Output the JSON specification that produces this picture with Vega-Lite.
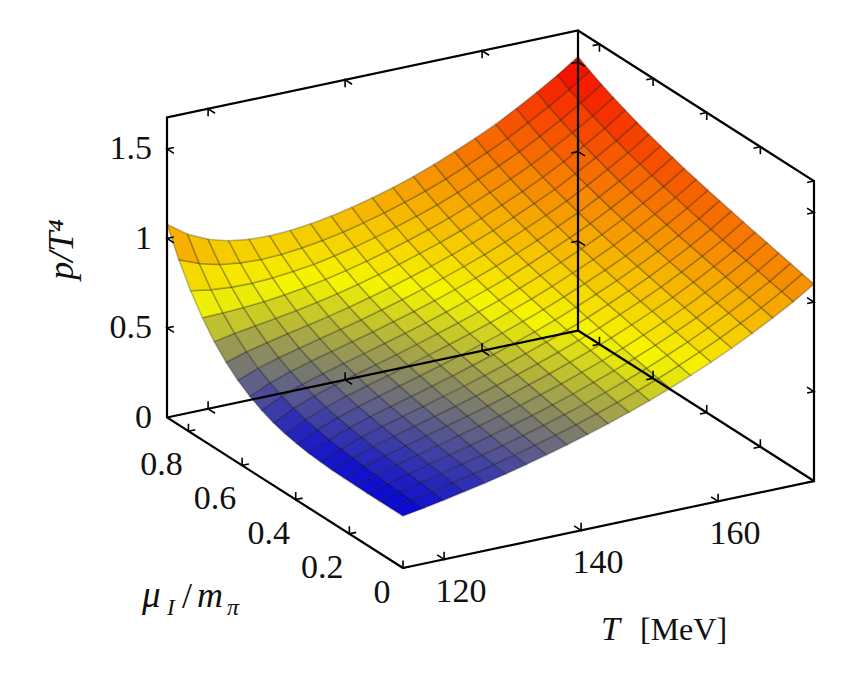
{"$schema":"https://vega.github.io/schema/vega-lite/v6.json","width":846,"height":691,"padding":0,"autosize":{"type":"fit","contains":"padding"},"background":"white","config":{"view":{"stroke":null},"text":{"font":"Liberation Serif","fontSize":34,"color":"#111"}},
"encoding":{"x":{"field":"sx","type":"quantitative","axis":null,"scale":{"domain":[0,846],"nice":false,"zero":false}},"y":{"field":"sy","type":"quantitative","axis":null,"scale":{"domain":[691,0],"nice":false,"zero":false}}},
"datasets":{"surface":[
{"T":114,"mu":0,"p":0.29},{"T":114,"mu":0.044,"p":0.29},{"T":114,"mu":0.088,"p":0.29},{"T":114,"mu":0.132,"p":0.29},{"T":114,"mu":0.176,"p":0.291},{"T":114,"mu":0.22,"p":0.292},{"T":114,"mu":0.264,"p":0.294},{"T":114,"mu":0.308,"p":0.299},{"T":114,"mu":0.352,"p":0.305},{"T":114,"mu":0.396,"p":0.316},{"T":114,"mu":0.44,"p":0.33},{"T":114,"mu":0.484,"p":0.35},{"T":114,"mu":0.528,"p":0.378},{"T":114,"mu":0.572,"p":0.414},{"T":114,"mu":0.616,"p":0.46},{"T":114,"mu":0.66,"p":0.519},{"T":114,"mu":0.704,"p":0.592},{"T":114,"mu":0.748,"p":0.683},{"T":114,"mu":0.792,"p":0.792},{"T":114,"mu":0.836,"p":0.924},{"T":114,"mu":0.88,"p":1.08},
{"T":117,"mu":0,"p":0.31},{"T":117,"mu":0.044,"p":0.315},{"T":117,"mu":0.088,"p":0.319},{"T":117,"mu":0.132,"p":0.324},{"T":117,"mu":0.176,"p":0.329},{"T":117,"mu":0.22,"p":0.335},{"T":117,"mu":0.264,"p":0.342},{"T":117,"mu":0.308,"p":0.349},{"T":117,"mu":0.352,"p":0.359},{"T":117,"mu":0.396,"p":0.372},{"T":117,"mu":0.44,"p":0.387},{"T":117,"mu":0.484,"p":0.408},{"T":117,"mu":0.528,"p":0.433},{"T":117,"mu":0.572,"p":0.465},{"T":117,"mu":0.616,"p":0.505},{"T":117,"mu":0.66,"p":0.554},{"T":117,"mu":0.704,"p":0.614},{"T":117,"mu":0.748,"p":0.687},{"T":117,"mu":0.792,"p":0.774},{"T":117,"mu":0.836,"p":0.878},{"T":117,"mu":0.88,"p":1.0},
{"T":120,"mu":0,"p":0.331},{"T":120,"mu":0.044,"p":0.339},{"T":120,"mu":0.088,"p":0.346},{"T":120,"mu":0.132,"p":0.354},{"T":120,"mu":0.176,"p":0.362},{"T":120,"mu":0.22,"p":0.37},{"T":120,"mu":0.264,"p":0.38},{"T":120,"mu":0.308,"p":0.39},{"T":120,"mu":0.352,"p":0.401},{"T":120,"mu":0.396,"p":0.415},{"T":120,"mu":0.44,"p":0.431},{"T":120,"mu":0.484,"p":0.451},{"T":120,"mu":0.528,"p":0.475},{"T":120,"mu":0.572,"p":0.504},{"T":120,"mu":0.616,"p":0.539},{"T":120,"mu":0.66,"p":0.581},{"T":120,"mu":0.704,"p":0.632},{"T":120,"mu":0.748,"p":0.692},{"T":120,"mu":0.792,"p":0.764},{"T":120,"mu":0.836,"p":0.848},{"T":120,"mu":0.88,"p":0.947},
{"T":123,"mu":0,"p":0.354},{"T":123,"mu":0.044,"p":0.363},{"T":123,"mu":0.088,"p":0.373},{"T":123,"mu":0.132,"p":0.383},{"T":123,"mu":0.176,"p":0.392},{"T":123,"mu":0.22,"p":0.402},{"T":123,"mu":0.264,"p":0.413},{"T":123,"mu":0.308,"p":0.425},{"T":123,"mu":0.352,"p":0.438},{"T":123,"mu":0.396,"p":0.452},{"T":123,"mu":0.44,"p":0.469},{"T":123,"mu":0.484,"p":0.488},{"T":123,"mu":0.528,"p":0.51},{"T":123,"mu":0.572,"p":0.537},{"T":123,"mu":0.616,"p":0.568},{"T":123,"mu":0.66,"p":0.606},{"T":123,"mu":0.704,"p":0.65},{"T":123,"mu":0.748,"p":0.701},{"T":123,"mu":0.792,"p":0.762},{"T":123,"mu":0.836,"p":0.833},{"T":123,"mu":0.88,"p":0.915},
{"T":126,"mu":0,"p":0.378},{"T":126,"mu":0.044,"p":0.389},{"T":126,"mu":0.088,"p":0.4},{"T":126,"mu":0.132,"p":0.41},{"T":126,"mu":0.176,"p":0.421},{"T":126,"mu":0.22,"p":0.433},{"T":126,"mu":0.264,"p":0.444},{"T":126,"mu":0.308,"p":0.457},{"T":126,"mu":0.352,"p":0.47},{"T":126,"mu":0.396,"p":0.485},{"T":126,"mu":0.44,"p":0.502},{"T":126,"mu":0.484,"p":0.521},{"T":126,"mu":0.528,"p":0.542},{"T":126,"mu":0.572,"p":0.567},{"T":126,"mu":0.616,"p":0.596},{"T":126,"mu":0.66,"p":0.63},{"T":126,"mu":0.704,"p":0.669},{"T":126,"mu":0.748,"p":0.714},{"T":126,"mu":0.792,"p":0.767},{"T":126,"mu":0.836,"p":0.828},{"T":126,"mu":0.88,"p":0.898},
{"T":129,"mu":0,"p":0.404},{"T":129,"mu":0.044,"p":0.416},{"T":129,"mu":0.088,"p":0.427},{"T":129,"mu":0.132,"p":0.439},{"T":129,"mu":0.176,"p":0.451},{"T":129,"mu":0.22,"p":0.463},{"T":129,"mu":0.264,"p":0.475},{"T":129,"mu":0.308,"p":0.488},{"T":129,"mu":0.352,"p":0.502},{"T":129,"mu":0.396,"p":0.518},{"T":129,"mu":0.44,"p":0.534},{"T":129,"mu":0.484,"p":0.553},{"T":129,"mu":0.528,"p":0.573},{"T":129,"mu":0.572,"p":0.597},{"T":129,"mu":0.616,"p":0.624},{"T":129,"mu":0.66,"p":0.655},{"T":129,"mu":0.704,"p":0.691},{"T":129,"mu":0.748,"p":0.732},{"T":129,"mu":0.792,"p":0.779},{"T":129,"mu":0.836,"p":0.832},{"T":129,"mu":0.88,"p":0.894},
{"T":132,"mu":0,"p":0.432},{"T":132,"mu":0.044,"p":0.444},{"T":132,"mu":0.088,"p":0.456},{"T":132,"mu":0.132,"p":0.469},{"T":132,"mu":0.176,"p":0.481},{"T":132,"mu":0.22,"p":0.494},{"T":132,"mu":0.264,"p":0.507},{"T":132,"mu":0.308,"p":0.52},{"T":132,"mu":0.352,"p":0.535},{"T":132,"mu":0.396,"p":0.55},{"T":132,"mu":0.44,"p":0.567},{"T":132,"mu":0.484,"p":0.585},{"T":132,"mu":0.528,"p":0.605},{"T":132,"mu":0.572,"p":0.628},{"T":132,"mu":0.616,"p":0.653},{"T":132,"mu":0.66,"p":0.682},{"T":132,"mu":0.704,"p":0.715},{"T":132,"mu":0.748,"p":0.753},{"T":132,"mu":0.792,"p":0.795},{"T":132,"mu":0.836,"p":0.844},{"T":132,"mu":0.88,"p":0.899},
{"T":135,"mu":0,"p":0.462},{"T":135,"mu":0.044,"p":0.475},{"T":135,"mu":0.088,"p":0.487},{"T":135,"mu":0.132,"p":0.5},{"T":135,"mu":0.176,"p":0.513},{"T":135,"mu":0.22,"p":0.526},{"T":135,"mu":0.264,"p":0.54},{"T":135,"mu":0.308,"p":0.553},{"T":135,"mu":0.352,"p":0.568},{"T":135,"mu":0.396,"p":0.584},{"T":135,"mu":0.44,"p":0.6},{"T":135,"mu":0.484,"p":0.618},{"T":135,"mu":0.528,"p":0.638},{"T":135,"mu":0.572,"p":0.66},{"T":135,"mu":0.616,"p":0.684},{"T":135,"mu":0.66,"p":0.712},{"T":135,"mu":0.704,"p":0.743},{"T":135,"mu":0.748,"p":0.778},{"T":135,"mu":0.792,"p":0.817},{"T":135,"mu":0.836,"p":0.862},{"T":135,"mu":0.88,"p":0.912},
{"T":138,"mu":0,"p":0.494},{"T":138,"mu":0.044,"p":0.507},{"T":138,"mu":0.088,"p":0.52},{"T":138,"mu":0.132,"p":0.533},{"T":138,"mu":0.176,"p":0.547},{"T":138,"mu":0.22,"p":0.56},{"T":138,"mu":0.264,"p":0.574},{"T":138,"mu":0.308,"p":0.588},{"T":138,"mu":0.352,"p":0.603},{"T":138,"mu":0.396,"p":0.618},{"T":138,"mu":0.44,"p":0.635},{"T":138,"mu":0.484,"p":0.653},{"T":138,"mu":0.528,"p":0.672},{"T":138,"mu":0.572,"p":0.693},{"T":138,"mu":0.616,"p":0.717},{"T":138,"mu":0.66,"p":0.743},{"T":138,"mu":0.704,"p":0.773},{"T":138,"mu":0.748,"p":0.806},{"T":138,"mu":0.792,"p":0.843},{"T":138,"mu":0.836,"p":0.884},{"T":138,"mu":0.88,"p":0.931},
{"T":141,"mu":0,"p":0.528},{"T":141,"mu":0.044,"p":0.541},{"T":141,"mu":0.088,"p":0.555},{"T":141,"mu":0.132,"p":0.568},{"T":141,"mu":0.176,"p":0.582},{"T":141,"mu":0.22,"p":0.596},{"T":141,"mu":0.264,"p":0.61},{"T":141,"mu":0.308,"p":0.624},{"T":141,"mu":0.352,"p":0.639},{"T":141,"mu":0.396,"p":0.655},{"T":141,"mu":0.44,"p":0.671},{"T":141,"mu":0.484,"p":0.689},{"T":141,"mu":0.528,"p":0.708},{"T":141,"mu":0.572,"p":0.729},{"T":141,"mu":0.616,"p":0.752},{"T":141,"mu":0.66,"p":0.778},{"T":141,"mu":0.704,"p":0.806},{"T":141,"mu":0.748,"p":0.838},{"T":141,"mu":0.792,"p":0.873},{"T":141,"mu":0.836,"p":0.912},{"T":141,"mu":0.88,"p":0.956},
{"T":144,"mu":0,"p":0.564},{"T":144,"mu":0.044,"p":0.578},{"T":144,"mu":0.088,"p":0.591},{"T":144,"mu":0.132,"p":0.605},{"T":144,"mu":0.176,"p":0.619},{"T":144,"mu":0.22,"p":0.633},{"T":144,"mu":0.264,"p":0.647},{"T":144,"mu":0.308,"p":0.662},{"T":144,"mu":0.352,"p":0.677},{"T":144,"mu":0.396,"p":0.692},{"T":144,"mu":0.44,"p":0.709},{"T":144,"mu":0.484,"p":0.727},{"T":144,"mu":0.528,"p":0.746},{"T":144,"mu":0.572,"p":0.767},{"T":144,"mu":0.616,"p":0.789},{"T":144,"mu":0.66,"p":0.814},{"T":144,"mu":0.704,"p":0.842},{"T":144,"mu":0.748,"p":0.872},{"T":144,"mu":0.792,"p":0.906},{"T":144,"mu":0.836,"p":0.943},{"T":144,"mu":0.88,"p":0.985},
{"T":147,"mu":0,"p":0.603},{"T":147,"mu":0.044,"p":0.617},{"T":147,"mu":0.088,"p":0.631},{"T":147,"mu":0.132,"p":0.645},{"T":147,"mu":0.176,"p":0.659},{"T":147,"mu":0.22,"p":0.673},{"T":147,"mu":0.264,"p":0.687},{"T":147,"mu":0.308,"p":0.702},{"T":147,"mu":0.352,"p":0.717},{"T":147,"mu":0.396,"p":0.733},{"T":147,"mu":0.44,"p":0.75},{"T":147,"mu":0.484,"p":0.767},{"T":147,"mu":0.528,"p":0.786},{"T":147,"mu":0.572,"p":0.807},{"T":147,"mu":0.616,"p":0.829},{"T":147,"mu":0.66,"p":0.853},{"T":147,"mu":0.704,"p":0.88},{"T":147,"mu":0.748,"p":0.909},{"T":147,"mu":0.792,"p":0.942},{"T":147,"mu":0.836,"p":0.978},{"T":147,"mu":0.88,"p":1.018},
{"T":150,"mu":0,"p":0.644},{"T":150,"mu":0.044,"p":0.658},{"T":150,"mu":0.088,"p":0.672},{"T":150,"mu":0.132,"p":0.686},{"T":150,"mu":0.176,"p":0.7},{"T":150,"mu":0.22,"p":0.715},{"T":150,"mu":0.264,"p":0.729},{"T":150,"mu":0.308,"p":0.744},{"T":150,"mu":0.352,"p":0.759},{"T":150,"mu":0.396,"p":0.775},{"T":150,"mu":0.44,"p":0.792},{"T":150,"mu":0.484,"p":0.81},{"T":150,"mu":0.528,"p":0.828},{"T":150,"mu":0.572,"p":0.849},{"T":150,"mu":0.616,"p":0.871},{"T":150,"mu":0.66,"p":0.895},{"T":150,"mu":0.704,"p":0.921},{"T":150,"mu":0.748,"p":0.95},{"T":150,"mu":0.792,"p":0.981},{"T":150,"mu":0.836,"p":1.016},{"T":150,"mu":0.88,"p":1.055},
{"T":153,"mu":0,"p":0.688},{"T":153,"mu":0.044,"p":0.702},{"T":153,"mu":0.088,"p":0.717},{"T":153,"mu":0.132,"p":0.731},{"T":153,"mu":0.176,"p":0.745},{"T":153,"mu":0.22,"p":0.76},{"T":153,"mu":0.264,"p":0.774},{"T":153,"mu":0.308,"p":0.789},{"T":153,"mu":0.352,"p":0.805},{"T":153,"mu":0.396,"p":0.821},{"T":153,"mu":0.44,"p":0.838},{"T":153,"mu":0.484,"p":0.856},{"T":153,"mu":0.528,"p":0.875},{"T":153,"mu":0.572,"p":0.895},{"T":153,"mu":0.616,"p":0.917},{"T":153,"mu":0.66,"p":0.94},{"T":153,"mu":0.704,"p":0.966},{"T":153,"mu":0.748,"p":0.995},{"T":153,"mu":0.792,"p":1.026},{"T":153,"mu":0.836,"p":1.06},{"T":153,"mu":0.88,"p":1.098},
{"T":156,"mu":0,"p":0.736},{"T":156,"mu":0.044,"p":0.75},{"T":156,"mu":0.088,"p":0.765},{"T":156,"mu":0.132,"p":0.779},{"T":156,"mu":0.176,"p":0.794},{"T":156,"mu":0.22,"p":0.809},{"T":156,"mu":0.264,"p":0.824},{"T":156,"mu":0.308,"p":0.839},{"T":156,"mu":0.352,"p":0.854},{"T":156,"mu":0.396,"p":0.871},{"T":156,"mu":0.44,"p":0.888},{"T":156,"mu":0.484,"p":0.906},{"T":156,"mu":0.528,"p":0.925},{"T":156,"mu":0.572,"p":0.945},{"T":156,"mu":0.616,"p":0.967},{"T":156,"mu":0.66,"p":0.99},{"T":156,"mu":0.704,"p":1.016},{"T":156,"mu":0.748,"p":1.044},{"T":156,"mu":0.792,"p":1.075},{"T":156,"mu":0.836,"p":1.109},{"T":156,"mu":0.88,"p":1.146},
{"T":159,"mu":0,"p":0.786},{"T":159,"mu":0.044,"p":0.801},{"T":159,"mu":0.088,"p":0.815},{"T":159,"mu":0.132,"p":0.83},{"T":159,"mu":0.176,"p":0.845},{"T":159,"mu":0.22,"p":0.86},{"T":159,"mu":0.264,"p":0.875},{"T":159,"mu":0.308,"p":0.89},{"T":159,"mu":0.352,"p":0.906},{"T":159,"mu":0.396,"p":0.922},{"T":159,"mu":0.44,"p":0.939},{"T":159,"mu":0.484,"p":0.957},{"T":159,"mu":0.528,"p":0.976},{"T":159,"mu":0.572,"p":0.997},{"T":159,"mu":0.616,"p":1.018},{"T":159,"mu":0.66,"p":1.042},{"T":159,"mu":0.704,"p":1.067},{"T":159,"mu":0.748,"p":1.095},{"T":159,"mu":0.792,"p":1.126},{"T":159,"mu":0.836,"p":1.159},{"T":159,"mu":0.88,"p":1.196},
{"T":162,"mu":0,"p":0.84},{"T":162,"mu":0.044,"p":0.855},{"T":162,"mu":0.088,"p":0.87},{"T":162,"mu":0.132,"p":0.884},{"T":162,"mu":0.176,"p":0.899},{"T":162,"mu":0.22,"p":0.914},{"T":162,"mu":0.264,"p":0.929},{"T":162,"mu":0.308,"p":0.945},{"T":162,"mu":0.352,"p":0.961},{"T":162,"mu":0.396,"p":0.977},{"T":162,"mu":0.44,"p":0.994},{"T":162,"mu":0.484,"p":1.013},{"T":162,"mu":0.528,"p":1.032},{"T":162,"mu":0.572,"p":1.052},{"T":162,"mu":0.616,"p":1.074},{"T":162,"mu":0.66,"p":1.097},{"T":162,"mu":0.704,"p":1.123},{"T":162,"mu":0.748,"p":1.15},{"T":162,"mu":0.792,"p":1.181},{"T":162,"mu":0.836,"p":1.214},{"T":162,"mu":0.88,"p":1.25},
{"T":165,"mu":0,"p":0.898},{"T":165,"mu":0.044,"p":0.913},{"T":165,"mu":0.088,"p":0.928},{"T":165,"mu":0.132,"p":0.943},{"T":165,"mu":0.176,"p":0.958},{"T":165,"mu":0.22,"p":0.974},{"T":165,"mu":0.264,"p":0.989},{"T":165,"mu":0.308,"p":1.005},{"T":165,"mu":0.352,"p":1.021},{"T":165,"mu":0.396,"p":1.038},{"T":165,"mu":0.44,"p":1.055},{"T":165,"mu":0.484,"p":1.074},{"T":165,"mu":0.528,"p":1.093},{"T":165,"mu":0.572,"p":1.114},{"T":165,"mu":0.616,"p":1.136},{"T":165,"mu":0.66,"p":1.159},{"T":165,"mu":0.704,"p":1.185},{"T":165,"mu":0.748,"p":1.213},{"T":165,"mu":0.792,"p":1.243},{"T":165,"mu":0.836,"p":1.277},{"T":165,"mu":0.88,"p":1.313},
{"T":168,"mu":0,"p":0.96},{"T":168,"mu":0.044,"p":0.975},{"T":168,"mu":0.088,"p":0.991},{"T":168,"mu":0.132,"p":1.006},{"T":168,"mu":0.176,"p":1.022},{"T":168,"mu":0.22,"p":1.037},{"T":168,"mu":0.264,"p":1.053},{"T":168,"mu":0.308,"p":1.069},{"T":168,"mu":0.352,"p":1.085},{"T":168,"mu":0.396,"p":1.103},{"T":168,"mu":0.44,"p":1.12},{"T":168,"mu":0.484,"p":1.139},{"T":168,"mu":0.528,"p":1.158},{"T":168,"mu":0.572,"p":1.179},{"T":168,"mu":0.616,"p":1.202},{"T":168,"mu":0.66,"p":1.226},{"T":168,"mu":0.704,"p":1.251},{"T":168,"mu":0.748,"p":1.28},{"T":168,"mu":0.792,"p":1.31},{"T":168,"mu":0.836,"p":1.343},{"T":168,"mu":0.88,"p":1.38},
{"T":171,"mu":0,"p":1.026},{"T":171,"mu":0.044,"p":1.042},{"T":171,"mu":0.088,"p":1.057},{"T":171,"mu":0.132,"p":1.073},{"T":171,"mu":0.176,"p":1.089},{"T":171,"mu":0.22,"p":1.104},{"T":171,"mu":0.264,"p":1.12},{"T":171,"mu":0.308,"p":1.137},{"T":171,"mu":0.352,"p":1.154},{"T":171,"mu":0.396,"p":1.171},{"T":171,"mu":0.44,"p":1.189},{"T":171,"mu":0.484,"p":1.208},{"T":171,"mu":0.528,"p":1.228},{"T":171,"mu":0.572,"p":1.249},{"T":171,"mu":0.616,"p":1.271},{"T":171,"mu":0.66,"p":1.295},{"T":171,"mu":0.704,"p":1.322},{"T":171,"mu":0.748,"p":1.35},{"T":171,"mu":0.792,"p":1.381},{"T":171,"mu":0.836,"p":1.414},{"T":171,"mu":0.88,"p":1.451},
{"T":174,"mu":0,"p":1.1},{"T":174,"mu":0.044,"p":1.116},{"T":174,"mu":0.088,"p":1.132},{"T":174,"mu":0.132,"p":1.148},{"T":174,"mu":0.176,"p":1.164},{"T":174,"mu":0.22,"p":1.18},{"T":174,"mu":0.264,"p":1.196},{"T":174,"mu":0.308,"p":1.213},{"T":174,"mu":0.352,"p":1.23},{"T":174,"mu":0.396,"p":1.247},{"T":174,"mu":0.44,"p":1.265},{"T":174,"mu":0.484,"p":1.284},{"T":174,"mu":0.528,"p":1.305},{"T":174,"mu":0.572,"p":1.326},{"T":174,"mu":0.616,"p":1.349},{"T":174,"mu":0.66,"p":1.373},{"T":174,"mu":0.704,"p":1.4},{"T":174,"mu":0.748,"p":1.428},{"T":174,"mu":0.792,"p":1.459},{"T":174,"mu":0.836,"p":1.493},{"T":174,"mu":0.88,"p":1.53}
],
"frame":[
{"e":"a","n":0,"T":114,"mu":0,"p":0},{"e":"a","n":1,"T":114,"mu":0.88,"p":0},{"e":"a","n":2,"T":114,"mu":0.88,"p":1.676},{"e":"a","n":3,"T":174,"mu":0.88,"p":1.676},{"e":"a","n":4,"T":174,"mu":0,"p":1.676},{"e":"a","n":5,"T":174,"mu":0,"p":0},{"e":"a","n":6,"T":114,"mu":0,"p":0},
{"e":"b","n":0,"T":174,"mu":0.88,"p":1.676},{"e":"b","n":1,"T":174,"mu":0.88,"p":0},{"e":"b","n":2,"T":114,"mu":0.88,"p":0},
{"e":"c","n":0,"T":174,"mu":0.88,"p":0},{"e":"c","n":1,"T":174,"mu":0,"p":0}
],
"ticks":[
{"T":114,"mu":0.88,"p":0.5,"sT":1,"sM":-1,"sP":0},{"T":114,"mu":0.88,"p":1,"sT":1,"sM":-1,"sP":0},{"T":114,"mu":0.88,"p":1.5,"sT":1,"sM":-1,"sP":0},
{"T":174,"mu":0.88,"p":0.5,"sT":-1,"sM":-1,"sP":0},{"T":174,"mu":0.88,"p":1,"sT":-1,"sM":-1,"sP":0},{"T":174,"mu":0.88,"p":1.5,"sT":-1,"sM":-1,"sP":0},
{"T":174,"mu":0,"p":0.5,"sT":-1,"sM":1,"sP":0},{"T":174,"mu":0,"p":1,"sT":-1,"sM":1,"sP":0},{"T":174,"mu":0,"p":1.5,"sT":-1,"sM":1,"sP":0},
{"T":120,"mu":0,"p":0,"sT":0,"sM":1,"sP":1},{"T":140,"mu":0,"p":0,"sT":0,"sM":1,"sP":1},{"T":160,"mu":0,"p":0,"sT":0,"sM":1,"sP":1},
{"T":120,"mu":0.88,"p":0,"sT":0,"sM":-1,"sP":1},{"T":140,"mu":0.88,"p":0,"sT":0,"sM":-1,"sP":1},{"T":160,"mu":0.88,"p":0,"sT":0,"sM":-1,"sP":1},
{"T":120,"mu":0.88,"p":1.676,"sT":0,"sM":-1,"sP":-1},{"T":140,"mu":0.88,"p":1.676,"sT":0,"sM":-1,"sP":-1},{"T":160,"mu":0.88,"p":1.676,"sT":0,"sM":-1,"sP":-1},
{"T":114,"mu":0,"p":0,"sT":1,"sM":0,"sP":1},{"T":114,"mu":0.2,"p":0,"sT":1,"sM":0,"sP":1},{"T":114,"mu":0.4,"p":0,"sT":1,"sM":0,"sP":1},{"T":114,"mu":0.6,"p":0,"sT":1,"sM":0,"sP":1},{"T":114,"mu":0.8,"p":0,"sT":1,"sM":0,"sP":1},
{"T":174,"mu":0,"p":0,"sT":-1,"sM":0,"sP":1},{"T":174,"mu":0.2,"p":0,"sT":-1,"sM":0,"sP":1},{"T":174,"mu":0.4,"p":0,"sT":-1,"sM":0,"sP":1},{"T":174,"mu":0.6,"p":0,"sT":-1,"sM":0,"sP":1},{"T":174,"mu":0.8,"p":0,"sT":-1,"sM":0,"sP":1},
{"T":174,"mu":0,"p":1.676,"sT":-1,"sM":0,"sP":-1},{"T":174,"mu":0.2,"p":1.676,"sT":-1,"sM":0,"sP":-1},{"T":174,"mu":0.4,"p":1.676,"sT":-1,"sM":0,"sP":-1},{"T":174,"mu":0.6,"p":1.676,"sT":-1,"sM":0,"sP":-1},{"T":174,"mu":0.8,"p":1.676,"sT":-1,"sM":0,"sP":-1}
]
},
"layer":[
{"data":{"name":"surface"},"transform":[
{"calculate":"round((datum.T-114)/3)","as":"i"},{"calculate":"round(datum.mu/0.044)","as":"j"},
{"calculate":"[0,1,2,3]","as":"corner"},{"flatten":["corner"]},
{"calculate":"datum.i-((datum.corner==1||datum.corner==2)?1:0)","as":"qi"},
{"calculate":"datum.j-(datum.corner>=2?1:0)","as":"qj"},
{"filter":"datum.qi>=0&&datum.qj>=0&&datum.qi<20&&datum.qj<20"},
{"calculate":"datum.qi*100+datum.qj","as":"quad"},
{"joinaggregate":[{"op":"mean","field":"p","as":"pm"}],"groupby":["quad"]},
{"calculate":"403+411*(datum.T-114)/60-236*datum.mu/0.88","as":"sx"},
{"calculate":"568-87*(datum.T-114)/60-150.5*datum.mu/0.88-179*datum.p","as":"sy"}],
"mark":{"type":"line","interpolate":"linear-closed","stroke":"#000","strokeOpacity":0.24,"strokeWidth":1.6},
"encoding":{"detail":{"field":"quad","type":"nominal"},"order":{"field":"corner","type":"quantitative"},
"fill":{"field":"pm","type":"quantitative","legend":null,"scale":{"domain":[0.28,0.75,1.53],"range":["#0000dd","#f6f600","#f60000"],"interpolate":"rgb","clamp":true,"nice":false,"zero":false}}}},
{"data":{"name":"frame"},"transform":[
{"calculate":"403+411*(datum.T-114)/60-236*datum.mu/0.88","as":"sx"},
{"calculate":"568-87*(datum.T-114)/60-150.5*datum.mu/0.88-179*datum.p","as":"sy"}],
"mark":{"type":"line","color":"#000","strokeWidth":2.2,"strokeJoin":"miter"},
"encoding":{"detail":{"field":"e","type":"nominal"},"order":{"field":"n","type":"quantitative"}}},
{"data":{"name":"ticks"},"transform":[
{"calculate":"datum.T+'_'+datum.mu+'_'+datum.p+'_'+datum.sT+datum.sM+datum.sP","as":"id"},
{"calculate":"[0,1,2]","as":"arm"},{"flatten":["arm"]},
{"calculate":"datum.arm==0?datum.sT:0","as":"aT"},
{"calculate":"(datum.arm==0&&datum.sT==0)||(datum.arm==2&&datum.sP==0)?datum.sM:0","as":"aM"},
{"calculate":"datum.arm==2?datum.sP:0","as":"aP"},
{"calculate":"403+411*(datum.T+datum.aT-114)/60-236*(datum.mu+0.026*datum.aM)/0.88","as":"sx"},
{"calculate":"568-87*(datum.T+datum.aT-114)/60-150.5*(datum.mu+0.026*datum.aM)/0.88-179*(datum.p+0.042*datum.aP)","as":"sy"}],
"mark":{"type":"line","color":"#000","strokeWidth":1.6},
"encoding":{"detail":{"field":"id","type":"nominal"},"order":{"field":"arm","type":"quantitative"}}},
{"data":{"values":[{"T":114,"mu":0.88,"p":0,"label":"0"},{"T":114,"mu":0.88,"p":0.5,"label":"0.5"},{"T":114,"mu":0.88,"p":1,"label":"1"},{"T":114,"mu":0.88,"p":1.5,"label":"1.5"}]},"transform":[
{"calculate":"403+411*(datum.T-114)/60-236*datum.mu/0.88","as":"sx"},
{"calculate":"568-87*(datum.T-114)/60-150.5*datum.mu/0.88-179*datum.p","as":"sy"}],
"mark":{"type":"text","align":"right","baseline":"middle","dx":-15,"dy":0},"encoding":{"text":{"field":"label"}}},
{"data":{"values":[{"T":114,"mu":0.2,"p":0,"label":"0.2"},{"T":114,"mu":0.4,"p":0,"label":"0.4"},{"T":114,"mu":0.6,"p":0,"label":"0.6"},{"T":114,"mu":0.8,"p":0,"label":"0.8"}]},"transform":[
{"calculate":"403+411*(datum.T-114)/60-236*datum.mu/0.88","as":"sx"},
{"calculate":"568-87*(datum.T-114)/60-150.5*datum.mu/0.88-179*datum.p","as":"sy"}],
"mark":{"type":"text","align":"center","baseline":"middle","dx":-27,"dy":34},"encoding":{"text":{"field":"label"}}},
{"data":{"values":[{"T":114,"mu":0,"p":0,"label":"0"}]},"transform":[
{"calculate":"403+411*(datum.T-114)/60-236*datum.mu/0.88","as":"sx"},
{"calculate":"568-87*(datum.T-114)/60-150.5*datum.mu/0.88-179*datum.p","as":"sy"}],
"mark":{"type":"text","align":"center","baseline":"middle","dx":-21,"dy":25},"encoding":{"text":{"field":"label"}}},
{"data":{"values":[{"T":120,"mu":0,"p":0,"label":"120"},{"T":140,"mu":0,"p":0,"label":"140"},{"T":160,"mu":0,"p":0,"label":"160"}]},"transform":[
{"calculate":"403+411*(datum.T-114)/60-236*datum.mu/0.88","as":"sx"},
{"calculate":"568-87*(datum.T-114)/60-150.5*datum.mu/0.88-179*datum.p","as":"sy"}],
"mark":{"type":"text","align":"center","baseline":"middle","dx":17,"dy":33},"encoding":{"text":{"field":"label"}}},
{"data":{"values":[{"T":114,"mu":0.88,"p":0,"label":"p/T⁴"}]},"transform":[
{"calculate":"403+411*(datum.T-114)/60-236*datum.mu/0.88","as":"sx"},
{"calculate":"568-87*(datum.T-114)/60-150.5*datum.mu/0.88-179*datum.p","as":"sy"}],
"mark":{"type":"text","align":"center","baseline":"alphabetic","angle":270,"fontStyle":"italic","fontSize":36,"dx":168,"dy":-94},"encoding":{"text":{"field":"label"}}},
{"data":{"values":[{"T":114,"mu":0,"p":0,"label":"T"}]},"transform":[
{"calculate":"403+411*(datum.T-114)/60-236*datum.mu/0.88","as":"sx"},
{"calculate":"568-87*(datum.T-114)/60-150.5*datum.mu/0.88-179*datum.p","as":"sy"}],
"mark":{"type":"text","align":"left","baseline":"alphabetic","fontStyle":"italic","dx":198,"dy":72},"encoding":{"text":{"field":"label"}}},
{"data":{"values":[{"T":114,"mu":0,"p":0,"label":"[MeV]"}]},"transform":[
{"calculate":"403+411*(datum.T-114)/60-236*datum.mu/0.88","as":"sx"},
{"calculate":"568-87*(datum.T-114)/60-150.5*datum.mu/0.88-179*datum.p","as":"sy"}],
"mark":{"type":"text","align":"left","baseline":"alphabetic","fontSize":32,"dx":237,"dy":72},"encoding":{"text":{"field":"label"}}},
{"data":{"values":[{"T":114,"mu":0,"p":0,"label":"μ"}]},"transform":[
{"calculate":"403+411*(datum.T-114)/60-236*datum.mu/0.88","as":"sx"},
{"calculate":"568-87*(datum.T-114)/60-150.5*datum.mu/0.88-179*datum.p","as":"sy"}],
"mark":{"type":"text","align":"left","baseline":"alphabetic","fontStyle":"italic","fontSize":37,"dx":-261,"dy":39},"encoding":{"text":{"field":"label"}}},
{"data":{"values":[{"T":114,"mu":0,"p":0,"label":"I"}]},"transform":[
{"calculate":"403+411*(datum.T-114)/60-236*datum.mu/0.88","as":"sx"},
{"calculate":"568-87*(datum.T-114)/60-150.5*datum.mu/0.88-179*datum.p","as":"sy"}],
"mark":{"type":"text","align":"left","baseline":"alphabetic","fontStyle":"italic","fontSize":23,"dx":-236,"dy":47},"encoding":{"text":{"field":"label"}}},
{"data":{"values":[{"T":114,"mu":0,"p":0,"label":"/"}]},"transform":[
{"calculate":"403+411*(datum.T-114)/60-236*datum.mu/0.88","as":"sx"},
{"calculate":"568-87*(datum.T-114)/60-150.5*datum.mu/0.88-179*datum.p","as":"sy"}],
"mark":{"type":"text","align":"left","baseline":"alphabetic","fontSize":36,"dx":-221,"dy":40},"encoding":{"text":{"field":"label"}}},
{"data":{"values":[{"T":114,"mu":0,"p":0,"label":"m"}]},"transform":[
{"calculate":"403+411*(datum.T-114)/60-236*datum.mu/0.88","as":"sx"},
{"calculate":"568-87*(datum.T-114)/60-150.5*datum.mu/0.88-179*datum.p","as":"sy"}],
"mark":{"type":"text","align":"left","baseline":"alphabetic","fontStyle":"italic","fontSize":36,"dx":-206,"dy":39},"encoding":{"text":{"field":"label"}}},
{"data":{"values":[{"T":114,"mu":0,"p":0,"label":"π"}]},"transform":[
{"calculate":"403+411*(datum.T-114)/60-236*datum.mu/0.88","as":"sx"},
{"calculate":"568-87*(datum.T-114)/60-150.5*datum.mu/0.88-179*datum.p","as":"sy"}],
"mark":{"type":"text","align":"left","baseline":"alphabetic","fontStyle":"italic","fontSize":24,"dx":-176,"dy":47},"encoding":{"text":{"field":"label"}}}
]}
